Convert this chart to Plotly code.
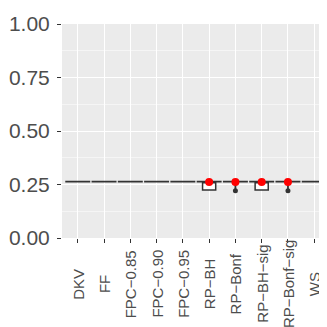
import plotly.graph_objects as go

categories = ["DKV", "FF", "FPC−0.85", "FPC−0.90", "FPC−0.95",
              "RP−BH", "RP−Bonf", "RP−BH−sig", "RP−Bonf−sig", "WS"]
median = [0.263] * 10
upperfence = [0.263] * 10
lowerfence = [0.263, 0.263, 0.263, 0.263, 0.263, 0.263, 0.226, 0.263, 0.226, 0.263]
box_cats = ["RP−BH", "RP−BH−sig"]
box_q1 = [0.224, 0.224]
box_median = [0.263, 0.263]
box_q3 = [0.263, 0.263]
mean_cats = ["RP−BH", "RP−Bonf", "RP−BH−sig", "RP−Bonf−sig"]
mean_vals = [0.262, 0.262, 0.262, 0.262]
outlier_cats = ["RP−Bonf", "RP−Bonf−sig"]
outlier_vals = [0.221, 0.221]

fig = go.Figure()
fig.add_trace(go.Box(
    x=box_cats, q1=box_q1, median=box_median, q3=box_q3,
    lowerfence=box_q1, upperfence=box_q3, width=0.5,
    fillcolor="white", line=dict(color="#333333", width=1.5),
    whiskerwidth=0, boxpoints=False, showlegend=False,
))
fig.add_trace(go.Box(
    x=categories, q1=median, median=median, q3=median,
    lowerfence=lowerfence, upperfence=upperfence, width=0.95,
    fillcolor="white", line=dict(color="#333333", width=1.8),
    whiskerwidth=0, boxpoints=False, showlegend=False,
))
fig.add_trace(go.Scatter(
    x=outlier_cats, y=outlier_vals, mode="markers",
    marker=dict(color="#333333", size=5), showlegend=False,
))
fig.add_trace(go.Scatter(
    x=mean_cats, y=mean_vals, mode="markers",
    marker=dict(color="red", size=8), showlegend=False,
))

for c in categories:
    fig.add_annotation(
        x=c, xref="x", y=-0.215, yref="paper", text=c, textangle=-90,
        showarrow=False, xanchor="center", yanchor="middle",
        font=dict(size=15, color="#4D4D4D"),
    )

fig.update_layout(
    width=327, height=327, autosize=False,
    margin=dict(l=54, r=5, t=16, b=97),
    paper_bgcolor="white", plot_bgcolor="#EBEBEB",
    font=dict(family="Liberation Sans, Arial, sans-serif", color="#4D4D4D"),
    boxmode="overlay",
)
fig.update_xaxes(
    type="category", categoryorder="array", categoryarray=categories,
    range=[-0.6, 9.6], showticklabels=False, automargin=False,
    showgrid=True, gridcolor="white", gridwidth=1.1,
    ticks="outside", ticklen=4, tickcolor="#333333", tickwidth=1,
    showline=False, zeroline=False,
)
fig.update_yaxes(
    range=[0, 1], tickvals=[0, 0.25, 0.5, 0.75, 1.0],
    ticktext=["0.00", "0.25", "0.50", "0.75", "1.00"],
    tickfont=dict(size=21, color="#4D4D4D"), automargin=False,
    ticklabelstandoff=3,
    showgrid=True, gridcolor="white", gridwidth=1.1,
    minor=dict(tickvals=[0.125, 0.375, 0.625, 0.875], showgrid=True,
               gridcolor="#F5F5F5", gridwidth=0.6, ticks=""),
    ticks="outside", ticklen=4, tickcolor="#333333", tickwidth=1,
    showline=False, zeroline=False,
)
fig.write_html("out.html")
